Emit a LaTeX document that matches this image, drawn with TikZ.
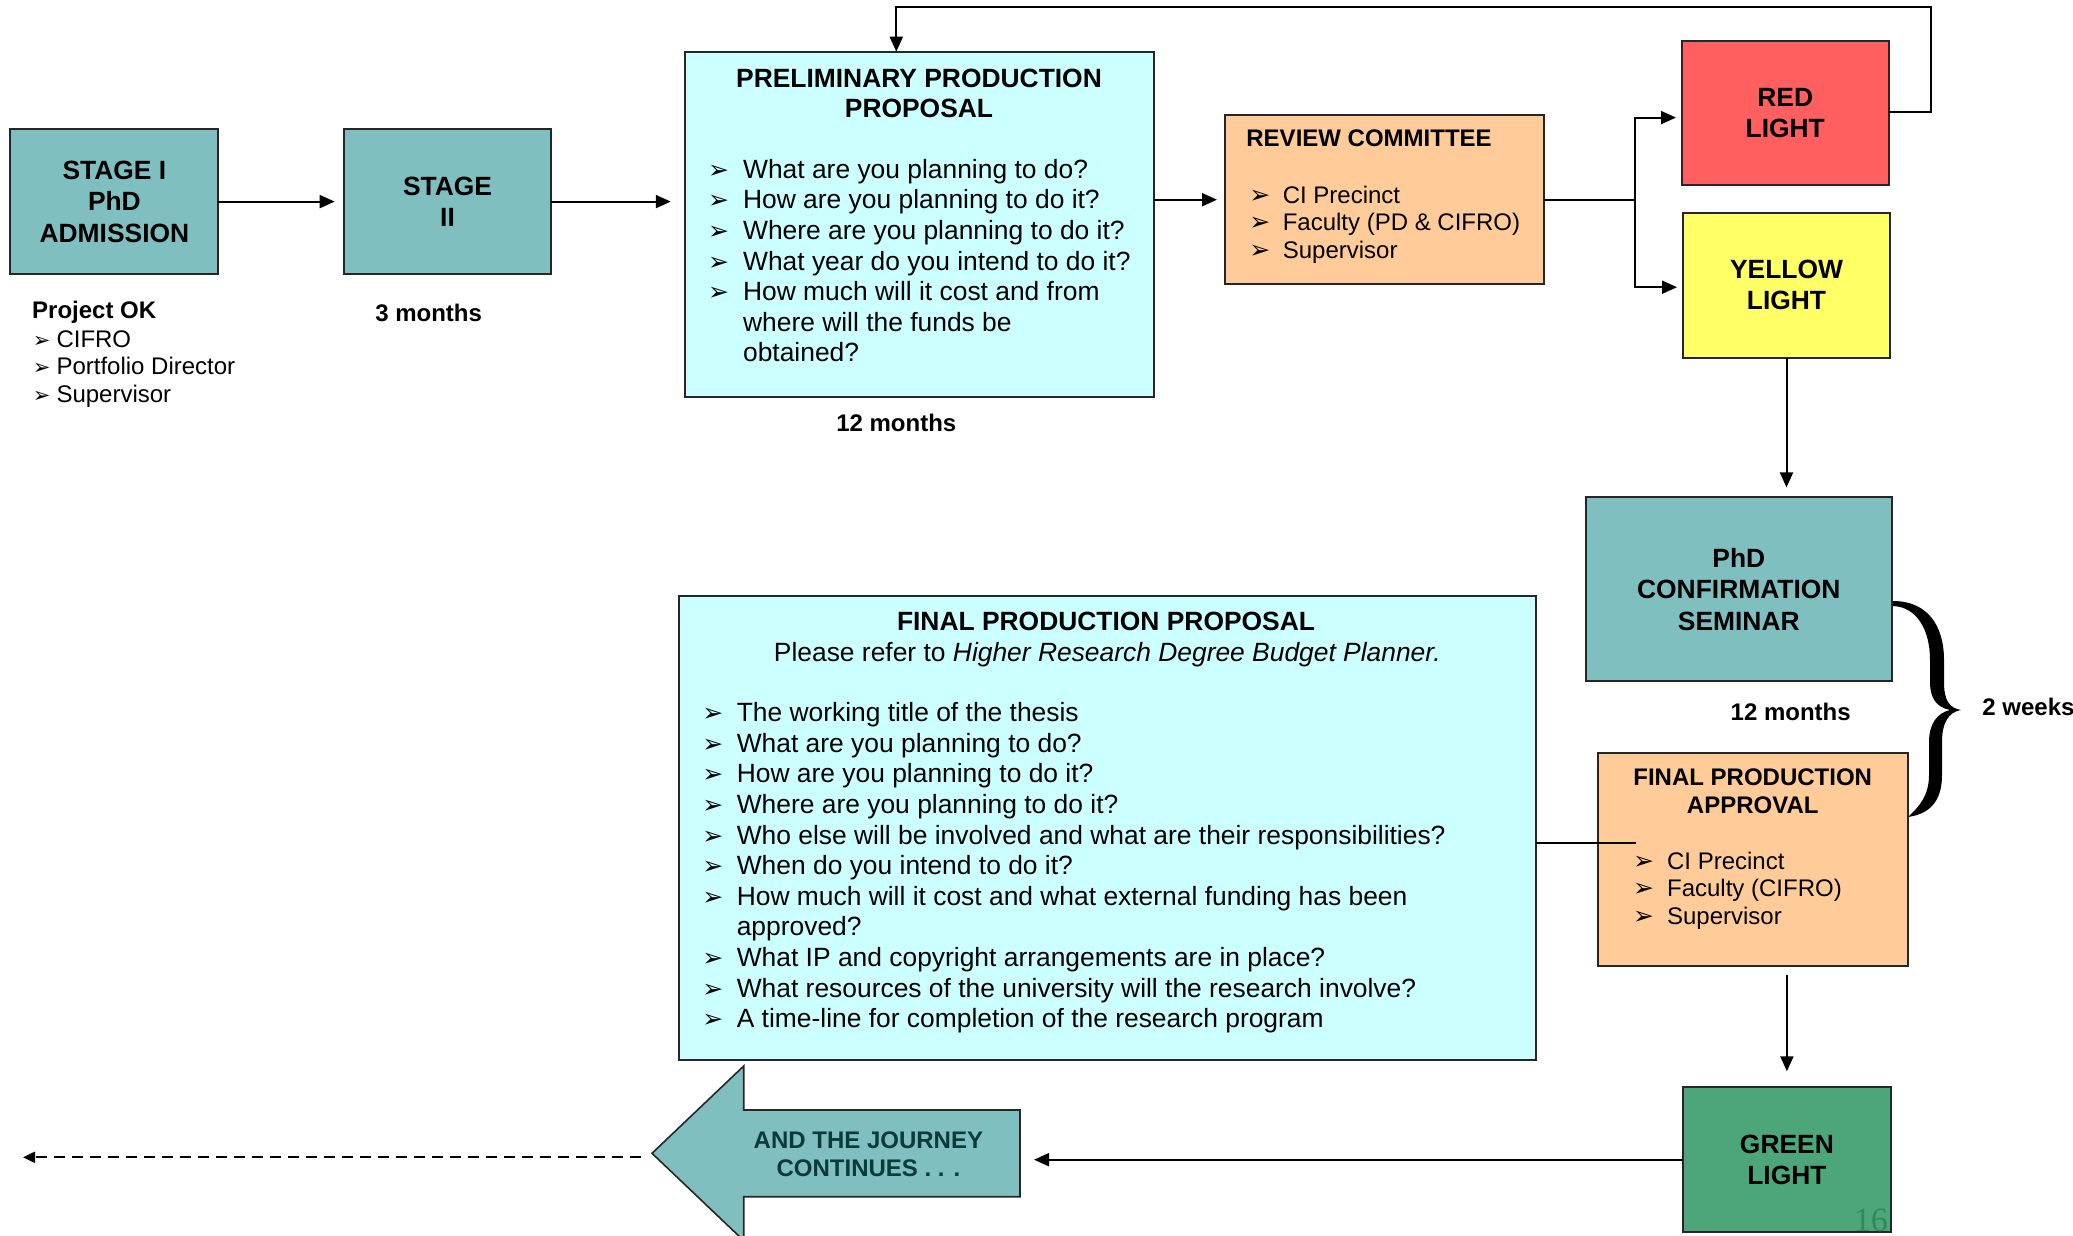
\documentclass[tikz,border=0pt]{standalone}
\usepackage{fontspec}
\setmainfont{Liberation Sans}
\newfontfamily\dejavu{DejaVu Sans}
\newfontfamily\serifnum{Liberation Serif}
\usetikzlibrary{arrows.meta}
\definecolor{tealbox}{HTML}{80BFBF}
\definecolor{cyanbox}{HTML}{CCFFFF}
\definecolor{peachbox}{HTML}{FFCC99}
\definecolor{redbox}{HTML}{FF5F5F}
\definecolor{yellowbox}{HTML}{FFFF66}
\definecolor{greenbox}{HTML}{4DA67A}
\definecolor{journeytext}{HTML}{0A3A3A}
\definecolor{pagenum}{HTML}{2F8A5C}
\newcommand{\bul}{{\dejavu\bfseries\fontsize{12.5}{12.5}\selectfont ➢}}
\newcommand{\bulsmall}{{\dejavu\bfseries\fontsize{10.5}{10.5}\selectfont ➢}}
\newcommand{\itm}[2]{\makebox[#1][l]{\bul}#2}
\newcommand{\itmsmall}[2]{\makebox[#1][l]{\bulsmall}#2}
\begin{document}
\begin{tikzpicture}[x=0.5pt,y=-0.5pt,
  box/.style={draw=black!85, line width=1pt, inner sep=0pt, outer sep=0pt, align=center,
    font=\bfseries\fontsize{13.2}{15.7}\selectfont},
  conn/.style={line width=1pt, draw=black},
  arr/.style={conn, -{Triangle[length=7.5pt,width=6.5pt]}},
  bigtxt/.style={inner sep=0pt, align=left, font=\fontsize{13.2}{15.3}\selectfont},
  smalltxt/.style={inner sep=0pt, align=left, font=\fontsize{12}{13.7}\selectfont},
  bigttl/.style={inner sep=0pt, align=center, font=\bfseries\fontsize{13.2}{15}\selectfont},
  smallttl/.style={inner sep=0pt, align=center, font=\bfseries\fontsize{12}{13.7}\selectfont}
]
\useasboundingbox (0,0) rectangle (2073,1236);

% boxes
\node[box, fill=tealbox, minimum width=104pt, minimum height=72.5pt] (s1) at (114.4,201.6) {STAGE I\\PhD\\ADMISSION};
\node[box, fill=tealbox, minimum width=103.8pt, minimum height=72.5pt] (s2) at (447.5,201.6) {STAGE\\II};
\node[box, fill=cyanbox, minimum width=234.6pt, minimum height=172.5pt] (prelim) at (919.4,224.2) {};
\node[box, fill=peachbox, minimum width=159.5pt, minimum height=84.7pt] (review) at (1384.5,199.7) {};
\node[box, fill=redbox, minimum width=103.6pt, minimum height=72.3pt] (red) at (1785.2,113) {RED\\LIGHT};
\node[box, fill=yellowbox, minimum width=103.9pt, minimum height=72.5pt] (yellow) at (1786.5,285.2) {YELLOW\\LIGHT};
\node[box, fill=tealbox, minimum width=153.2pt, minimum height=91.8pt] (phd) at (1738.8,589.2) {PhD\\CONFIRMATION\\SEMINAR};
\node[box, fill=cyanbox, minimum width=428.2pt, minimum height=232.2pt] (fpp) at (1107.3,827.8) {};
\node[box, fill=peachbox, minimum width=155pt, minimum height=106.2pt] (fpa) at (1753.3,859.5) {};
\node[box, fill=greenbox, minimum width=104.2pt, minimum height=72.4pt] (green) at (1786.9,1159.7) {GREEN\\LIGHT};

% texts (anchor=base refers to the last line's baseline)
\node[inner sep=0pt, anchor=base west, font=\bfseries\fontsize{12}{13.7}\selectfont] (pok) at (31.8,318) {Project OK};
\node[smalltxt, anchor=base west] (poklist) at (32.5,402.1) {\itmsmall{11.8pt}{CIFRO}\\\itmsmall{11.8pt}{Portfolio Director}\\\itmsmall{11.8pt}{Supervisor}};
\node[inner sep=0pt, font=\bfseries\fontsize{12}{13.7}\selectfont] (m3) at (428.6,313.3) {3 months};

\node[bigttl, anchor=base] (ptitle) at (919,117.3) {PRELIMINARY PRODUCTION\\PROPOSAL};
\node[bigtxt, anchor=base west] (plist) at (707.7,361.9) {\itm{17.5pt}{What are you planning to do?}\\
\itm{17.5pt}{How are you planning to do it?}\\
\itm{17.5pt}{Where are you planning to do it?}\\
\itm{17.5pt}{What year do you intend to do it?}\\
\itm{17.5pt}{How much will it cost and from}\\
\hspace*{17.5pt}where will the funds be\\
\hspace*{17.5pt}obtained?};
\node[inner sep=0pt, font=\bfseries\fontsize{12}{13.7}\selectfont] (m12a) at (896.3,423) {12 months};

\node[inner sep=0pt, anchor=base west, font=\bfseries\fontsize{12}{13.7}\selectfont] (rtitle) at (1246,146.7) {REVIEW COMMITTEE};
\node[smalltxt, anchor=base west] (rlist) at (1249,258.1) {\itm{16.7pt}{CI Precinct}\\\itm{16.7pt}{Faculty (PD \& CIFRO)}\\\itm{16.7pt}{Supervisor}};

\node[inner sep=0pt, font=\bfseries\fontsize{12}{13.7}\selectfont] (m12b) at (1790.7,712.3) {12 months};
\node[inner sep=0pt, anchor=west, font=\bfseries\fontsize{12}{13.7}\selectfont] (w2) at (1982,707) {2 weeks};

\node[bigttl, anchor=base] (fpptitle) at (1106,630) {FINAL PRODUCTION PROPOSAL};
\node[inner sep=0pt, anchor=base, font=\fontsize{13.2}{15.3}\selectfont] (fppref) at (1107.3,661) {Please refer to \textit{Higher Research Degree Budget Planner.}};
\node[bigtxt, anchor=base west] (fpplist) at (702,1027.7) {\itm{17.2pt}{The working title of the thesis}\\
\itm{17.2pt}{What are you planning to do?}\\
\itm{17.2pt}{How are you planning to do it?}\\
\itm{17.2pt}{Where are you planning to do it?}\\
\itm{17.2pt}{Who else will be involved and what are their responsibilities?}\\
\itm{17.2pt}{When do you intend to do it?}\\
\itm{17.2pt}{How much will it cost and what external funding has been}\\
\hspace*{17.2pt}approved?\\
\itm{17.2pt}{What IP and copyright arrangements are in place?}\\
\itm{17.2pt}{What resources of the university will the research involve?}\\
\itm{17.2pt}{A time-line for completion of the research program}};

\node[smallttl, anchor=base] (fpatitle) at (1752.7,813.3) {FINAL PRODUCTION\\APPROVAL};
\node[smalltxt, anchor=base west] (fpalist) at (1632.7,924.1) {\itm{17pt}{CI Precinct}\\\itm{17pt}{Faculty (CIFRO)}\\\itm{17pt}{Supervisor}};

\node[inner sep=0pt, text=pagenum, font=\serifnum\fontsize{17}{17}\selectfont] (pnum) at (1870.8,1220) {16};

% journey arrow
\draw[fill=tealbox, draw=black!85, line width=0.8pt] (652,1153.3) -- (743.7,1066) -- (743.7,1110) -- (1020,1110) -- (1020,1196.7) -- (743.7,1196.7) -- (743.7,1240.6) -- cycle;
\node[inner sep=0pt, align=center, text=journeytext, font=\bfseries\fontsize{12}{14.2}\selectfont] (journey) at (868.4,1154) {AND THE JOURNEY\\CONTINUES . . .};
\coordinate (jend) at (1020,1159.7);
\coordinate (jtip) at (641,1157.3);
\coordinate (lend) at (23,1157.3);

% coordinates
\coordinate (fork) at (1635.4,200.3);
\coordinate (fb1) at (1931,7.3);
\coordinate (fb2) at (896.3,7.3);
\coordinate (fpain) at (1636,842.7);

% connectors
\draw[arr, shorten >=4.5pt] (s1.east) -- (s2.west);
\draw[arr, shorten >=7pt] (s2.east) -- (s2.east -| prelim.west);
\draw[arr, shorten >=4pt] (review.west -| prelim.east) -- (review.west);
\draw[conn] (review.east |- fork) -- (fork);
\draw[arr, shorten >=2.8pt] (fork) |- ([yshift=-2.3pt]red.west);
\draw[arr, shorten >=2.8pt] (fork) |- ([yshift=-1pt]yellow.west);
\draw[arr] ([yshift=0.6pt]red.east) -| (fb1) -- (fb2) -- (fb2 |- prelim.north);
\draw[arr, shorten >=5pt] (yellow.south) -- (yellow.south |- phd.north);
\draw[conn] (fpain -| fpp.east) -- (fpain);
\draw[arr, shorten <=4.5pt, shorten >=8pt] (fpa.south -| green.north) -- (green.north);
\draw[arr, shorten >=7pt] (green.west |- jend) -- (jend);
\draw[conn, dash pattern=on 5.5pt off 3.5pt, -{Triangle[length=6pt,width=5.5pt]}] (jtip) -- (lend);

% brace
\fill[black] (1893,601) .. controls (1927,601) and (1944,625) .. (1944,660)
  -- (1944,682) .. controls (1944,700) and (1949,708) .. (1961,710)
  .. controls (1949,712) and (1942,722) .. (1942,742)
  -- (1942,775) .. controls (1942,802) and (1929,814) .. (1908,817)
  .. controls (1920,806) and (1929,795) .. (1929,775)
  -- (1929,742) .. controls (1929,724) and (1937,713) .. (1950,710)
  .. controls (1936,707) and (1930,698) .. (1930,682)
  -- (1930,660) .. controls (1930,630) and (1917,607) .. (1893,606) -- cycle;
\end{tikzpicture}
\end{document}
